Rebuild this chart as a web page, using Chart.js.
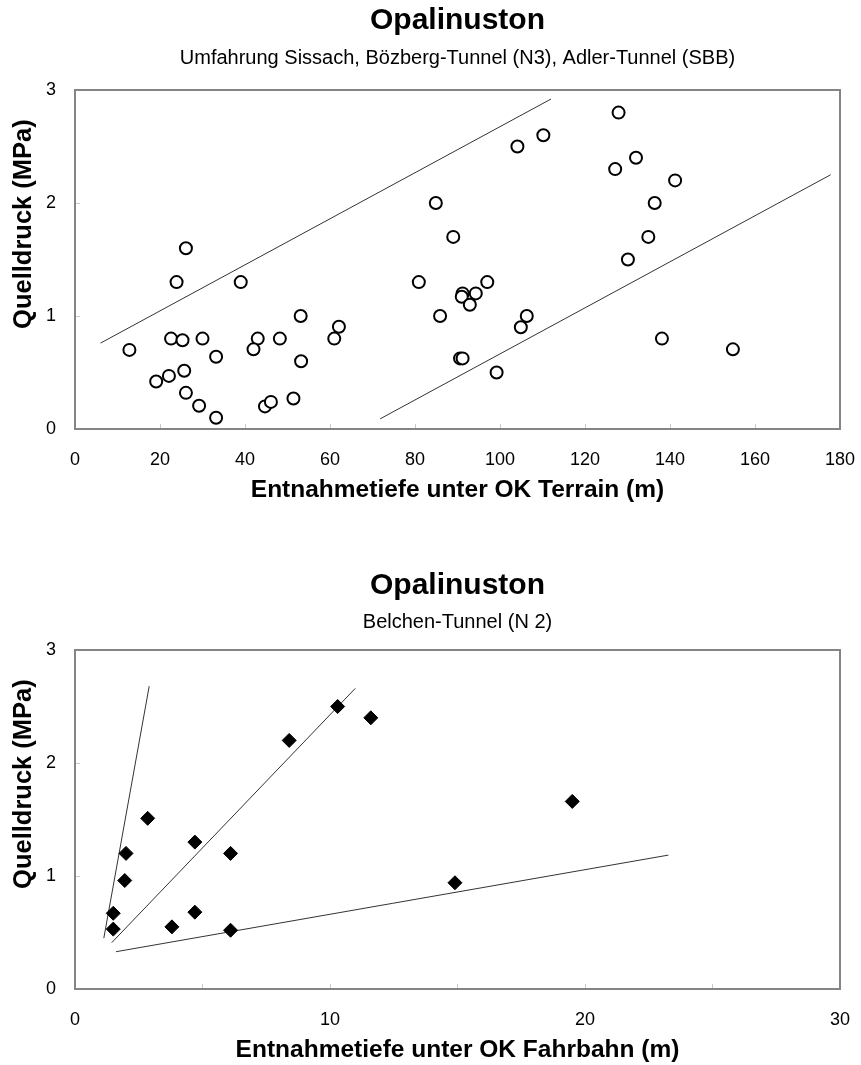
<!DOCTYPE html>
<html>
<head>
<meta charset="utf-8">
<script src="https://cdn.jsdelivr.net/npm/chart.js@4.4.1/dist/chart.umd.min.js"></script>
<style>
  body { margin: 0; background: #fff; }
  canvas { display: block; }
</style>
</head>
<body>
<canvas id="chart_top" width="861" height="530"></canvas>
<canvas id="chart_bottom" width="861" height="535"></canvas>
<script>
// top chart: Umfahrung Sissach, Bözberg-Tunnel, Adler-Tunnel
const topDepth = [26.1, 23.9, 39.0, 53.1, 12.8, 22.6, 25.3, 30.0, 43.0, 42.0, 48.2, 33.2, 53.2, 25.7, 19.1, 22.1, 26.1, 29.2, 33.2, 44.7, 46.1, 51.4,
    62.1, 61.0, 104.1, 110.2, 84.9, 89.0, 80.9, 91.2, 91.0, 94.3, 92.9, 97.0, 85.9, 106.3, 104.9, 90.6, 91.2, 99.2,
    127.9, 132.0, 127.1, 141.2, 136.4, 134.9, 130.1, 138.1, 154.8];
const topPressure = [1.60, 1.30, 1.30, 1.00, 0.70, 0.80, 0.785, 0.80, 0.80, 0.705, 0.80, 0.64, 0.60, 0.516, 0.42, 0.47, 0.32, 0.206, 0.10, 0.20, 0.24, 0.27,
    0.905, 0.80, 2.50, 2.60, 2.00, 1.70, 1.30, 1.20, 1.17, 1.20, 1.10, 1.30, 1.00, 1.00, 0.90, 0.625, 0.625, 0.50,
    2.80, 2.40, 2.30, 2.20, 2.00, 1.70, 1.50, 0.80, 0.705];
const topUpperLineX = [6.0, 112.0];
const topUpperLineY = [0.76, 2.92];
const topLowerLineX = [71.8, 177.8];
const topLowerLineY = [0.09, 2.25];
const topXTicks = [0, 20, 40, 60, 80, 100, 120, 140, 160, 180];

// bottom chart: Belchen-Tunnel
const botDepth = [10.3, 8.4, 11.6, 2.85, 4.7, 2.0, 6.1, 1.95, 1.5, 1.5, 4.7, 3.8, 6.1, 19.5, 14.9];
const botPressure = [2.50, 2.20, 2.40, 1.51, 1.30, 1.20, 1.20, 0.96, 0.67, 0.53, 0.68, 0.55, 0.52, 1.66, 0.94];
const botSteepLineX = [1.13, 2.91];
const botSteepLineY = [0.45, 2.68];
const botMidLineX = [1.44, 10.99];
const botMidLineY = [0.41, 2.66];
const botLowLineX = [1.61, 23.27];
const botLowLineY = [0.33, 1.185];
const botXTicks = [0, 10, 20, 30];

const yTicks = [0, 1, 2, 3];

const FONT = '"Liberation Sans", Arial, sans-serif';
Chart.defaults.font.family = FONT;
Chart.defaults.color = '#000';

const toPoints = (xs, ys) => xs.map((x, i) => ({ x: x, y: ys[i] }));

// grey frame round the plot area
const frame = {
    id: 'frame',
    afterDraw(chart) {
        const a = chart.chartArea;
        const c = chart.ctx;
        c.save();
        c.strokeStyle = '#858585';
        c.lineWidth = 2;
        c.strokeRect(a.left, a.top, a.right - a.left, a.bottom - a.top);
        c.restore();
    }
};

const lineSet = (xs, ys) => ({
    type: 'scatter',
    data: toPoints(xs, ys),
    showLine: true,
    borderColor: '#333',
    borderWidth: 1,
    pointRadius: 0,
    order: 1
});

// leading spaces push the rotated y title up a bit, as in the original
const yTitle = '          Quelldruck (MPa)';

function makeOpts(cfg) {
    return {
        responsive: false,
        animation: false,
        layout: { padding: { left: 9, right: 21, top: 0, bottom: cfg.padBottom } },
        plugins: {
            legend: { display: false },
            tooltip: { enabled: false },
            title: {
                display: true, text: 'Opalinuston', color: '#000', fullSize: false,
                font: { size: 30, weight: 'bold' },
                padding: { top: cfg.t1, bottom: 0 }
            },
            subtitle: {
                display: true, text: cfg.subtitle, color: '#000', fullSize: false,
                font: { size: 20 },
                padding: { top: cfg.t2, bottom: cfg.b2 }
            }
        },
        scales: {
            x: {
                type: 'linear', min: 0, max: cfg.xMax,
                afterFit: s => { s.height = 76; s.paddingLeft = 0; s.paddingRight = 0; },
                afterBuildTicks: s => { s.ticks = cfg.xGrid.map(v => ({ value: v })); },
                ticks: {
                    autoSkip: false, maxRotation: 0, padding: 25,
                    font: { size: 18 },
                    callback: v => cfg.xLabels.includes(v) ? String(v) : ''
                },
                grid: { drawOnChartArea: false, drawTicks: true, tickLength: -5, tickColor: '#c8c8c8' },
                border: { color: '#858585', width: 2 },
                title: {
                    display: true, text: cfg.xTitle, color: '#000',
                    font: { size: 24.5, weight: 'bold' }, padding: 0
                }
            },
            y: {
                type: 'linear', min: 0, max: 3,
                afterFit: s => { s.width = 66; s.paddingTop = 0; s.paddingBottom = 0; },
                afterBuildTicks: s => { s.ticks = yTicks.map(v => ({ value: v })); },
                ticks: { padding: 24, font: { size: 18 } },
                grid: { drawOnChartArea: false, drawTicks: true, tickLength: -5, tickColor: '#c8c8c8' },
                border: { color: '#858585', width: 2 },
                title: {
                    display: true, text: yTitle, color: '#000',
                    font: { size: 25.5, weight: 'bold' }, padding: 0
                }
            }
        }
    };
}

new Chart(document.getElementById('chart_top'), {
    type: 'scatter',
    data: {
        datasets: [{
            data: toPoints(topDepth, topPressure),
            pointStyle: 'circle',
            pointRadius: 6,
            borderWidth: 2,
            borderColor: '#000',
            backgroundColor: '#fff',
            order: 0
        },
        lineSet(topUpperLineX, topUpperLineY),
        lineSet(topLowerLineX, topLowerLineY)]
    },
    options: makeOpts({
        subtitle: 'Umfahrung Sissach, Bözberg-Tunnel (N3), Adler-Tunnel (SBB)',
        xTitle: 'Entnahmetiefe unter OK Terrain (m)',
        xMax: 180, xGrid: topXTicks, xLabels: topXTicks,
        t1: 3, t2: 7, b2: 20, padBottom: 25
    }),
    plugins: [frame]
});

new Chart(document.getElementById('chart_bottom'), {
    type: 'scatter',
    data: {
        datasets: [{
            data: toPoints(botDepth, botPressure),
            pointStyle: 'rectRot',
            pointRadius: 7,
            borderWidth: 1,
            borderColor: '#000',
            backgroundColor: '#000',
            order: 0
        },
        lineSet(botSteepLineX, botSteepLineY),
        lineSet(botMidLineX, botMidLineY),
        lineSet(botLowLineX, botLowLineY)]
    },
    options: makeOpts({
        subtitle: 'Belchen-Tunnel (N 2)',
        xTitle: 'Entnahmetiefe unter OK Fahrbahn (m)',
        xMax: 30, xGrid: [0, 5, 10, 15, 20, 25, 30], xLabels: botXTicks,
        t1: 38, t2: 6, b2: 16, padBottom: 0
    }),
    plugins: [frame]
});
</script>
</body>
</html>
